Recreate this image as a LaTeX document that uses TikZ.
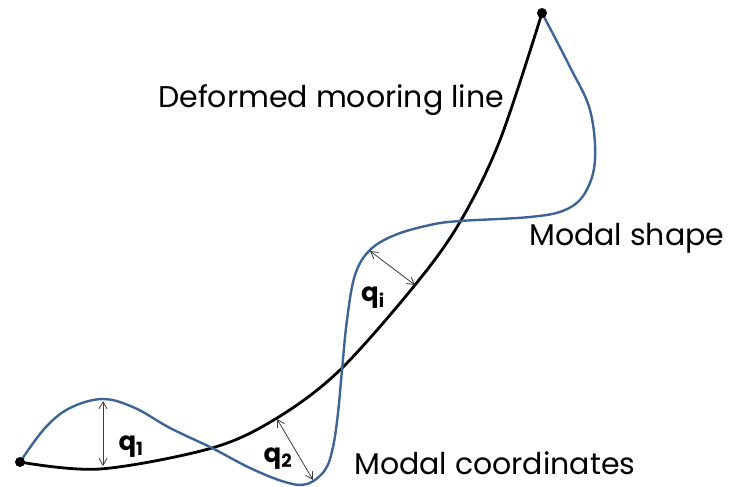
\documentclass[tikz,border=0pt]{standalone}
\usepackage{fontspec}
\setmainfont{Poppins}
\usetikzlibrary{arrows.meta}
\definecolor{modeblue}{RGB}{62,100,150}
\definecolor{arrgray}{RGB}{60,60,60}
\tikzset{
  lbl/.style={font=\fontsize{30}{33}\selectfont, text=black, inner sep=0pt},
  qlbl/.style={font=\fontsize{26}{28}\selectfont\bfseries, text=black, inner sep=0pt},
  qarrow/.style={draw=arrgray, line width=0.8pt, {Straight Barb[length=7pt,width=8pt]}-{Straight Barb[length=7pt,width=8pt]}},
  endpt/.style={circle, fill=black, inner sep=0pt, minimum size=10pt}
}
\begin{document}
\begin{tikzpicture}[x=1pt,y=-1pt]
\useasboundingbox (0,0) rectangle (729,487);
% black deformed line
\draw[line width=2.8pt, black] plot[smooth, tension=0.55] coordinates {
 (20,462) (100,469) (212,448) (277,418) (340,370)
 (415,285) (460,222) (500,140) (542,13)};
% blue modal shape
\draw[line width=2.4pt, modeblue] plot[smooth, tension=0.6] coordinates {
 (20,462) (45,428) (70,408) (103,399) (135,408) (170,428) (212,448)
 (250,468) (285,482) (307,484) (325,470) (333,447) (338,413) (342,370)
 (347,320) (355,275) (370,250) (395,235) (430,225) (460,221) (530,217)
 (565,210) (585,193) (595,160) (590,110) (570,67) (542,13)};
% end points
\node[endpt] (a) at (20,462) {};
\node[endpt] (b) at (542,13) {};
% arrow end coordinates
\coordinate (q1top) at (103,401);
\coordinate (q1bot) at (103,466);
\coordinate (q2top) at (277,419);
\coordinate (q2bot) at (313,480);
\coordinate (qitop) at (370,251);
\coordinate (qibot) at (415,285);
\draw[qarrow] (q1top) -- (q1bot);
\draw[qarrow] (q2top) -- (q2bot);
\draw[qarrow] (qitop) -- (qibot);
% q labels
\node[qlbl] (lq1) at (131,447) {q\textsubscript{1}};
\node[qlbl] (lq2) at (278,459) {q\textsubscript{2}};
\node[qlbl] (lqi) at (373,298) {q\textsubscript{i}};
% text labels
\node[lbl, anchor=west] (t1) at (158,100) {Deformed mooring line};
\node[lbl, anchor=west] (t2) at (529,238) {Modal shape};
\node[lbl, anchor=west] (t3) at (354,463) {Modal coordinates};
\end{tikzpicture}
\end{document}
